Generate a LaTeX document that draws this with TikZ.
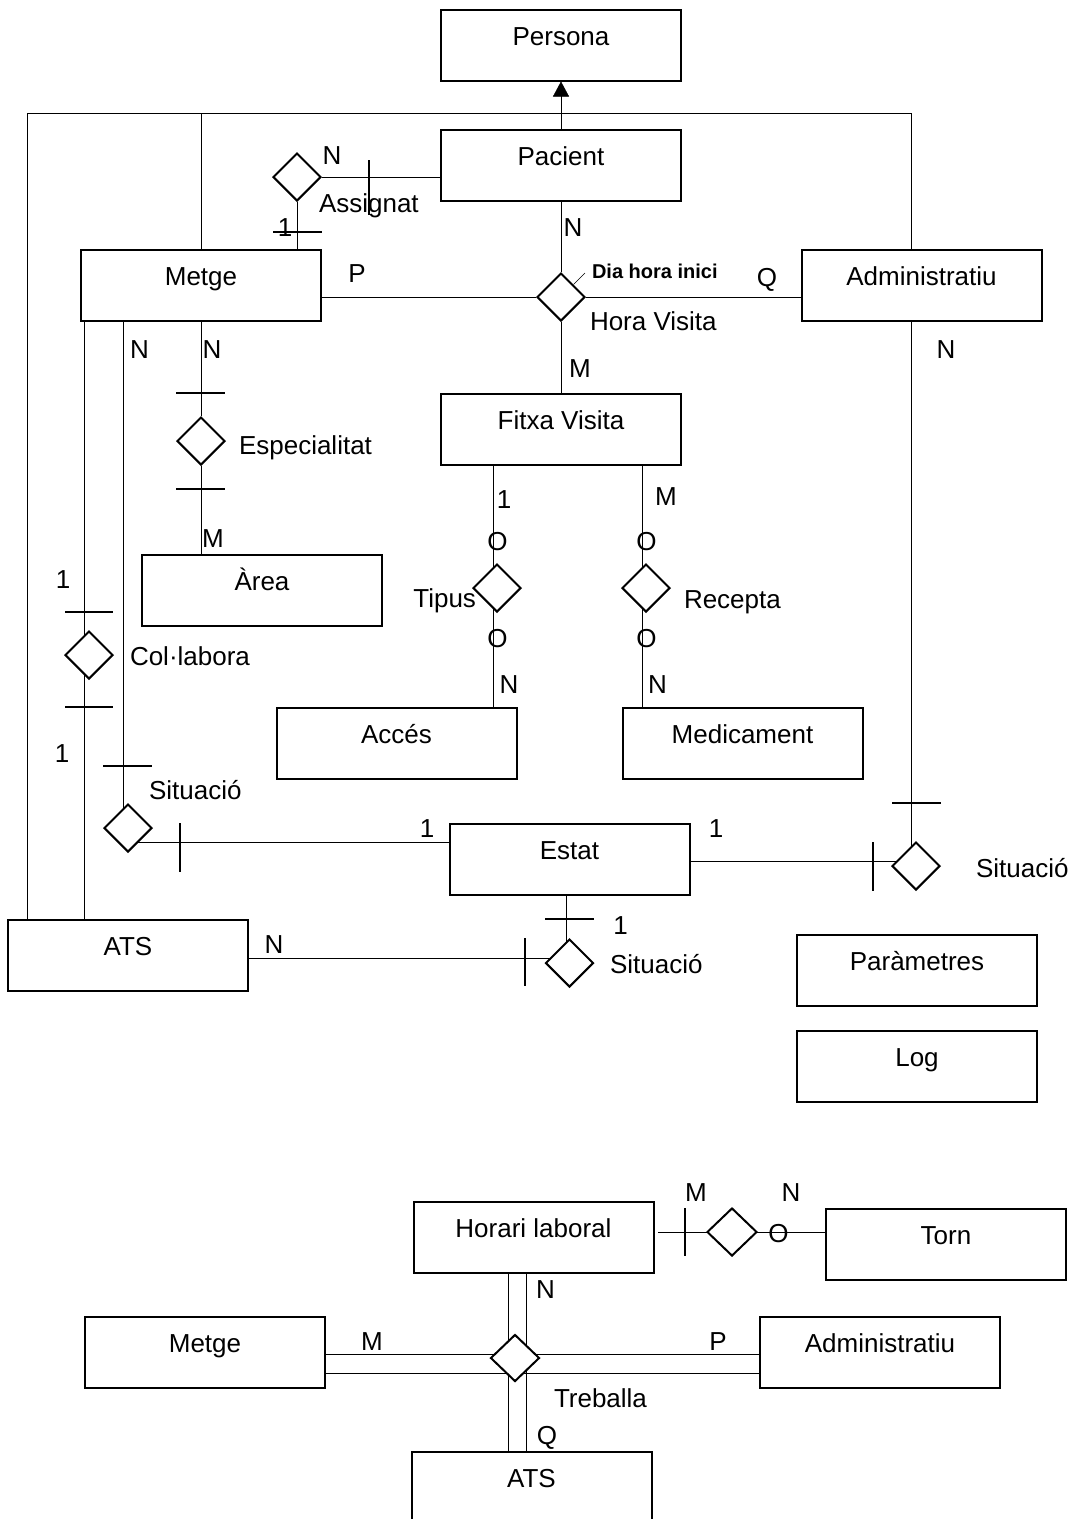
\documentclass[tikz,border=0pt]{standalone}
\usepackage{fontspec}
\setmainfont{Liberation Sans}
\usetikzlibrary{shapes.geometric,arrows.meta,backgrounds}
\newcommand\myfs{\fontsize{26}{31}\selectfont}
\newcommand\mybf{\fontsize{20}{24}\selectfont\bfseries}
\newcommand\tkh[3]{\draw (#1,#3) -- (#2,#3);}
\newcommand\tkv[3]{\draw (#3,#1) -- (#3,#2);}
\begin{document}
\begin{tikzpicture}[x=1pt,y=-1pt,line width=2pt,
  ent/.style={draw, minimum width=240pt, minimum height=71pt, inner sep=0pt,
              text height=10pt, text depth=10pt, font=\myfs},
  rel/.style={draw, fill=white, shape=diamond, aspect=1, inner sep=0pt,
              minimum width=48pt, minimum height=48pt},
  lbl/.style={anchor=base, inner sep=0pt, font=\myfs},
  blbl/.style={anchor=base west, inner sep=0pt, font=\mybf}]
\useasboundingbox (0,0) rectangle (1072,1519);

% entities
\node[ent] (persona) at (561,45) {Persona};
\node[ent] (pacient) at (561,165) {Pacient};
\node[ent] (metge) at (201,285) {Metge};
\node[ent] (admin) at (921.5,285) {Administratiu};
\node[ent] (fitxa) at (561,429.5) {Fitxa Visita};
\node[ent] (area) at (262,590.5) {Àrea};
\node[ent] (acces) at (396.5,743.5) {Accés};
\node[ent] (medic) at (742.5,743.5) {Medicament};
\node[ent] (estat) at (569.5,859) {Estat};
\node[ent] (ats) at (128,955) {ATS};
\node[ent] (param) at (917,970.5) {Paràmetres};
\node[ent] (log) at (917,1066.5) {Log};
\node[ent] (horari) at (533.5,1237) {Horari laboral};
\node[ent] (torn) at (946,1244.5) {Torn};
\node[ent] (metge2) at (205,1352) {Metge};
\node[ent] (admin2) at (880,1352) {Administratiu};
\node[ent] (ats2) at (531.5,1487) {ATS};

% relationships
\node[rel] (assig) at (297,177) {};
\node[rel] (horav) at (561,297) {};
\node[rel] (espec) at (201,441) {};
\node[rel] (colab) at (89,655) {};
\node[rel] (tipus) at (497,588) {};
\node[rel] (recep) at (646,588) {};
\node[rel] (sit1) at (128,828) {};
\node[rel] (sit2) at (916,866) {};
\node[rel] (sit3) at (569.5,963) {};
\node[rel, minimum width=50pt] (tdia) at (732,1232) {};
\node[rel, minimum width=49pt, minimum height=47pt] (treb) at (515,1358) {};

% helper coordinates
\coordinate (g1) at (27,113);
\coordinate (g2) at (911,113);
\coordinate (cx) at (84,0);
\coordinate (sx) at (123,0);
\coordinate (sy) at (0,842);
\coordinate (ey) at (0,861);
\coordinate (s3x) at (566,0);
\coordinate (ay) at (0,958);
\coordinate (tx) at (493,0);
\coordinate (rx) at (642,0);
\coordinate (h0) at (658,1232);
\coordinate (v1) at (508,0);
\coordinate (v2) at (526,0);
\coordinate (h1) at (0,1354);
\coordinate (h2) at (0,1373);
\coordinate (dhi) at (585,273);

\begin{scope}[on background layer]
  % generalisation
  \draw (g1 |- ats.north) -- (g1) -- (g2) -- (g2 |- admin.north);
  \draw (metge.north) -- (metge.north |- g1);
  \draw[-{Triangle[length=15pt,width=16pt]}] (pacient.north) -- (persona.south);
  % Assignat
  \draw (assig.east) -- (assig.east -| pacient.west);
  \draw (assig.south) -- (assig.south |- metge.north);
  % Hora Visita
  \draw (pacient.south) -- (horav.north);
  \draw (horav.west) -- (horav.west -| metge.east);
  \draw (horav.east) -- (horav.east -| admin.west);
  \draw (horav.south) -- (fitxa.north);
  \draw (horav.north east) -- (dhi);
  % Especialitat
  \draw (metge.south) -- (espec.north);
  \draw (espec.south) -- (espec.south |- area.north);
  % Col·labora
  \draw (cx |- metge.south) -- (cx |- ats.north);
  % Situació (left)
  \draw (sx |- metge.south) -- (sx |- sit1.center);
  \draw (sit1.center |- sy) -- (estat.west |- sy);
  % Situació (right)
  \draw (g2 |- admin.south) -- (g2 |- sit2.center);
  \draw (estat.east |- ey) -- (sit2.center |- ey);
  % Situació (bottom)
  \draw (s3x |- estat.south) -- (s3x |- sit3.center);
  \draw (ats.east |- ay) -- (sit3.center |- ay);
  % Tipus / Recepta
  \draw (tx |- fitxa.south) -- (tx |- acces.north);
  \draw (rx |- fitxa.south) -- (rx |- medic.north);
  % bottom diagram
  \draw (h0) -- (h0 -| torn.west);
  \draw (v1 |- horari.south) -- (v1 |- ats2.north);
  \draw (v2 |- horari.south) -- (v2 |- ats2.north);
  \draw (metge2.east |- h1) -- (admin2.west |- h1);
  \draw (metge2.east |- h2) -- (admin2.west |- h2);
\end{scope}

% cardinality ticks
\tkv{160}{215}{369}
\tkh{273}{322}{232}
\tkh{176}{225}{393}
\tkh{176}{225}{489}
\tkh{65}{113}{612}
\tkh{65}{113}{707}
\tkh{103}{152}{766}
\tkv{823}{872}{180}
\tkh{892}{941}{803}
\tkv{842}{891}{873}
\tkh{545}{594}{919}
\tkv{938}{986}{525}
\tkv{1208}{1256}{685}

% labels
\node[lbl] (lN1) at (332,164) {N};
\node[lbl,anchor=base west] (lAss) at (318,212) {Assignat};
\node[lbl] (l11) at (285,236) {1};
\node[lbl] (lP) at (357,282) {P};
\node[lbl] (lN2) at (573,236) {N};
\node[blbl] (ldhi) at (591,278) {Dia hora inici};
\node[lbl] (lQ) at (767,286) {Q};
\node[lbl,anchor=base west] (lhv) at (589,330) {Hora Visita};
\node[lbl] (lM1) at (580,377) {M};
\node[lbl] (lN3) at (139.5,358) {N};
\node[lbl] (lN4) at (212,358) {N};
\node[lbl] (lN5) at (946,358) {N};
\node[lbl,anchor=base west] (lesp) at (238,454) {Especialitat};
\node[lbl] (lM2) at (213,547) {M};
\node[lbl] (l12) at (63,588) {1};
\node[lbl,anchor=base west] (lcol) at (129,665) {Col·labora};
\node[lbl] (l13) at (62,762) {1};
\node[lbl,anchor=base west] (lsit1) at (148,799) {Situació};
\node[lbl] (l14) at (427,837) {1};
\node[lbl] (l15) at (504,508) {1};
\node[lbl] (lO1) at (497.5,550) {O};
\node[lbl] (lO2) at (646.5,550) {O};
\node[lbl] (lO3) at (497.5,647) {O};
\node[lbl] (lO4) at (646.5,647) {O};
\node[lbl,anchor=base east] (ltip) at (477,607) {Tipus};
\node[lbl,anchor=base west] (lrec) at (683,608) {Recepta};
\node[lbl] (lN6) at (509,693) {N};
\node[lbl] (lN7) at (657.5,693) {N};
\node[lbl] (lM3) at (666,505) {M};
\node[lbl] (l16) at (716,837) {1};
\node[lbl,anchor=base west] (lsit2) at (975,877) {Situació};
\node[lbl] (l17) at (620.5,934) {1};
\node[lbl,anchor=base west] (lsit3) at (609,973) {Situació};
\node[lbl] (lN8) at (274,953) {N};
\node[lbl] (lM4) at (696,1201) {M};
\node[lbl] (lN9) at (791,1201) {N};
\node[lbl] (lO5) at (778.5,1242) {O};
\node[lbl] (lN10) at (545.5,1298) {N};
\node[lbl] (lM5) at (372,1350) {M};
\node[lbl] (lP2) at (718,1350) {P};
\node[lbl,anchor=base west] (ltreb) at (553,1407) {Treballa};
\node[lbl] (lQ2) at (547,1444) {Q};
\end{tikzpicture}
\end{document}
